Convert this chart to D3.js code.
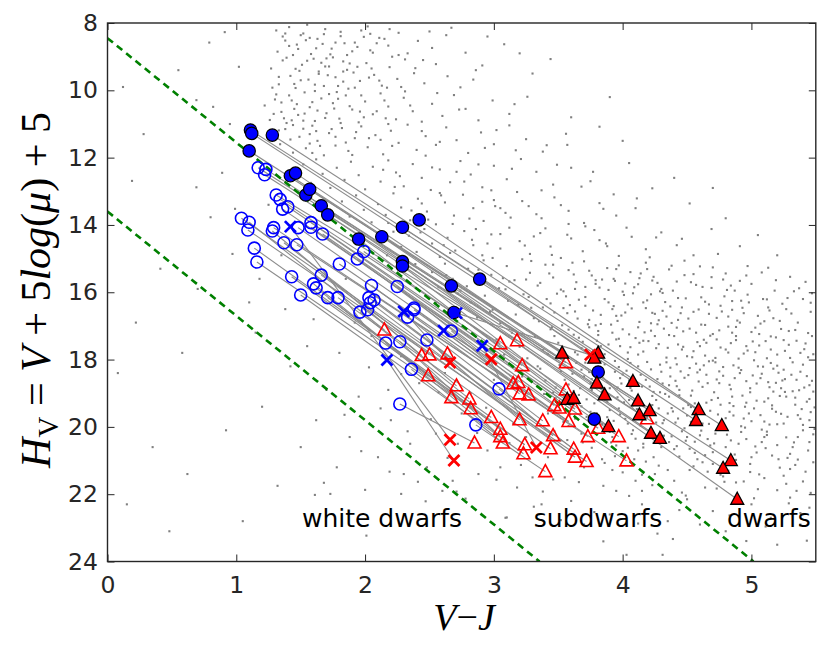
<!DOCTYPE html>
<html>
<head>
<meta charset="utf-8">
<script src="https://cdn.jsdelivr.net/npm/d3@7"></script>
<style>
  body { margin: 0; background: #fff; }
  svg { display: block; }
  .tick text { font-family: "DejaVu Sans", sans-serif; fill: #262626; }
</style>
</head>
<body>
<div id="chart"></div>
<script>
// ---- data ----
var xTicks = [0, 1, 2, 3, 4, 5];
var yTicks = [8, 10, 12, 14, 16, 18, 20, 22, 24];

// filled blue circles (left end of each pair)
var filledCircles = [
  [1.11, 11.18], [1.12, 11.28], [1.28, 11.33], [1.10, 11.80], [1.42, 12.54],
  [1.46, 12.46], [1.54, 13.11], [1.57, 12.94], [1.66, 13.43], [1.71, 13.70],
  [1.95, 14.42], [2.13, 14.35], [2.29, 14.07], [2.42, 13.85], [2.29, 15.09],
  [2.29, 15.22], [2.67, 15.81], [2.89, 15.61], [2.69, 16.60], [3.81, 18.37],
  [3.78, 19.77]
];
// filled red triangles
var filledTriangles = [
  [3.53, 17.81], [3.81, 17.81], [3.78, 17.96], [3.80, 18.70], [3.86, 19.05],
  [3.57, 19.18], [3.62, 19.15], [3.89, 19.99], [4.08, 18.65], [4.12, 19.23],
  [4.13, 19.64], [4.21, 19.52], [4.22, 20.19], [4.29, 20.34], [4.59, 19.49],
  [4.57, 19.81], [4.77, 19.96], [4.84, 21.00], [4.78, 21.23], [4.89, 22.15]
];
// [circle index, triangle index]
var filledLinks = [
  [0, 1], [1, 8], [2, 16], [3, 17], [4, 9], [5, 0], [6, 18], [7, 11], [8, 13],
  [9, 12], [10, 5], [11, 3], [12, 15], [13, 14], [14, 19], [15, 6], [16, 4],
  [17, 2], [18, 7], [19, 10], [20, 7]
];

// open blue circles
var openCircles = [
  [1.17, 12.30], [1.23, 12.35], [1.22, 12.51], [1.31, 13.11], [1.34, 13.24],
  [1.36, 13.53], [1.40, 13.46], [1.04, 13.80], [1.10, 13.92], [1.09, 14.15],
  [1.29, 14.08], [1.28, 14.18], [1.48, 14.08], [1.58, 13.93], [1.58, 14.07],
  [1.67, 14.27], [1.37, 14.53], [1.47, 14.59], [1.14, 14.69], [1.16, 15.10],
  [1.80, 15.16], [1.43, 15.54], [1.66, 15.49], [1.60, 15.75], [1.62, 15.87],
  [1.50, 16.08], [1.71, 16.16], [1.79, 16.16], [1.99, 14.79], [1.94, 15.01],
  [2.05, 15.80], [2.03, 16.16], [2.07, 16.23], [2.04, 16.31], [1.96, 16.59],
  [2.02, 16.52], [2.25, 15.83], [2.38, 16.47], [2.33, 16.74], [2.38, 16.52],
  [2.67, 17.15], [2.16, 17.51], [2.27, 17.47], [2.48, 17.42], [2.36, 18.29],
  [3.04, 18.87], [2.27, 19.32], [2.86, 19.94]
];
// open red triangles
var openTriangles = [
  [2.15, 17.12], [2.44, 17.88], [2.50, 17.86], [2.64, 17.83], [2.49, 18.48],
  [2.71, 18.78], [2.67, 19.13], [2.81, 19.17], [2.82, 19.46], [2.98, 19.72],
  [3.05, 20.07], [3.05, 20.29], [3.07, 20.48], [2.85, 20.48], [3.05, 17.53],
  [3.18, 17.44], [3.22, 18.18], [3.15, 18.72], [3.19, 18.68], [3.20, 19.02],
  [3.27, 19.05], [3.20, 19.79], [3.24, 20.53], [3.23, 20.80], [3.38, 19.82],
  [3.46, 20.26], [3.44, 20.65], [3.40, 21.33], [3.56, 18.90], [3.47, 19.37],
  [3.51, 19.44], [3.63, 19.47], [3.58, 19.84], [3.56, 18.09], [3.62, 20.66],
  [3.63, 20.90], [3.72, 21.03], [3.73, 20.29], [3.81, 20.04], [3.97, 20.29],
  [4.03, 21.01], [4.19, 19.76]
];
var openLinks = [
  [1, 33], [0, 33], [2, 41], [3, 15], [4, 14], [28, 28], [6, 16], [13, 39],
  [15, 31], [5, 31], [14, 38], [29, 30], [36, 18], [12, 29], [40, 17], [37, 20],
  [39, 32], [20, 32], [30, 19], [10, 37], [17, 40], [11, 1], [38, 24], [16, 2],
  [8, 0], [32, 34], [7, 25], [31, 34], [33, 35], [43, 21], [9, 36], [22, 35],
  [45, 25], [35, 5], [27, 26], [34, 7], [23, 4], [18, 9], [24, 8], [42, 11],
  [26, 10], [21, 22], [19, 22], [41, 11], [25, 23], [44, 12], [47, 27], [46, 13]
];

// crosses: blue i is linked with red i
var blueCrosses = [[1.42, 14.05], [2.30, 16.57], [2.71, 16.62], [2.61, 17.14], [2.91, 17.59], [2.17, 18.01]];
var redCrosses  = [[2.66, 20.38], [2.66, 18.09], [3.75, 17.86], [2.98, 17.99], [3.33, 20.61], [2.69, 21.00]];

// dashed separators: H = b + m (V-J)
var dividers = [{ b: 8.45, m: 3.10 }, { b: 13.6, m: 3.10 }];

var labelTexts = ["white dwarfs", "subdwarfs", "dwarfs"];
var labelX = [1.51, 3.31, 4.81];
var labelY = [22.98, 22.98, 22.98];

// background field stars "x y"
var fieldRaw = "1.32 8.85,1.41 8.12,1.47 8.64,1.52 8.31,1.58 8.92,1.63 8.47,1.69 8.18,1.74 8.76,1.81 8.39,1.86 8.95,1.92 8.58,1.97 8.22,2.04 8.81,2.11 8.44,2.18 8.67,2.26 8.29,2.33 8.90,2.41 8.53,2.52 8.74,2.63 8.36,2.78 8.88,1.38 8.52,1.55 8.05,1.77 8.58,2.02 8.10," +
  "1.27 9.35,1.33 9.82,1.36 9.11,1.42 9.57,1.46 9.93,1.51 9.24,1.56 9.68,1.6 9.06,1.64 9.44,1.68 9.87,1.72 9.29,1.77 9.61,1.83 9.14,1.87 9.95,1.91 9.47,1.96 9.72,2.01 9.19,2.07 9.54,2.13 9.86,2.19 9.31,2.25 9.66,2.31 9.08,2.38 9.49,2.46 9.79,2.55 9.22,2.64 9.58,2.74 9.91,2.86 9.4,1.49 9.42,1.7 9.05,1.94 9.3," +
  "1.22 10.45,1.26 10.88,1.31 10.12,1.35 10.64,1.39 10.97,1.43 10.3,1.48 10.73,1.53 10.06,1.57 10.5,1.61 10.91,1.66 10.24,1.7 10.68,1.75 10.38,1.8 10.84,1.85 10.15,1.9 10.57,1.95 10.95,2.0 10.33,2.06 10.71,2.12 10.09,2.18 10.48,2.24 10.86,2.3 10.22,2.37 10.62,2.44 10.93,2.52 10.4,2.6 10.76,2.69 10.14,2.78 10.55,2.88 10.89,2.99 10.3,3.12 10.7,1.45 10.55,1.63 10.6,1.78 10.05," +
  "1.34 11.6,1.38 11.15,1.44 11.85,1.49 11.38,1.54 11.72,1.59 11.05,1.63 11.5,1.68 11.93,1.72 11.27,1.77 11.64,1.82 11.12,1.87 11.8,1.92 11.42,1.97 11.07,2.02 11.69,2.08 11.33,2.14 11.9,2.2 11.2,2.26 11.56,2.33 11.02,2.4 11.77,2.47 11.36,2.55 11.62,2.63 11.1,2.71 11.48,2.8 11.86,2.9 11.25,3.0 11.6,3.12 11.04,3.25 11.45,3.38 11.82,1.57 11.3,1.85 11.55,2.18 11.0," +
  "1.52 12.2,1.58 12.75,1.62 12.05,1.67 12.48,1.73 12.9,1.78 12.3,1.84 12.66,1.89 12.12,1.95 12.52,2.0 12.94,2.06 12.27,2.12 12.71,2.18 12.08,2.24 12.44,2.3 12.85,2.37 12.19,2.44 12.6,2.51 12.96,2.58 12.35,2.66 12.73,2.74 12.1,2.82 12.5,2.91 12.88,3.0 12.24,3.1 12.64,3.21 12.04,3.33 12.42,3.46 12.8,3.6 12.3,3.75 12.7,2.27 12.55,2.88 12.2," +
  "1.82 13.3,1.88 13.75,1.93 13.12,1.99 13.55,2.05 13.92,2.1 13.38,2.16 13.7,2.22 13.06,2.28 13.48,2.35 13.86,2.41 13.22,2.48 13.6,2.55 13.98,2.62 13.33,2.69 13.72,2.76 13.1,2.84 13.5,2.92 13.88,3.0 13.26,3.09 13.64,3.18 13.02,3.27 13.44,3.37 13.8,3.47 13.18,3.58 13.58,3.7 13.94,3.82 13.35,3.95 13.72,4.1 13.5,2.58 13.05,3.05 13.5," +
  "2.12 14.5,2.17 14.9,2.22 14.2,2.28 14.65,2.34 14.32,2.4 14.8,2.46 14.12,2.52 14.55,2.58 14.95,2.64 14.38,2.7 14.76,2.77 14.18,2.84 14.6,2.91 14.9,2.98 14.28,3.05 14.7,3.12 14.08,3.2 14.48,3.28 14.86,3.36 14.24,3.44 14.64,3.52 14.98,3.6 14.4,3.69 14.78,3.78 14.15,3.87 14.55,3.97 14.92,4.07 14.35,4.18 14.72,4.3 14.22,4.42 14.6,4.55 14.9,2.95 14.55,3.4 14.1,3.82 14.45," +
  "2.52 15.4,2.57 15.85,2.62 15.15,2.68 15.6,2.74 15.95,2.8 15.3,2.86 15.72,2.92 15.05,2.98 15.48,3.04 15.88,3.1 15.22,3.16 15.64,3.22 15.02,3.28 15.42,3.34 15.8,3.4 15.18,3.46 15.56,3.52 15.92,3.58 15.34,3.64 15.7,3.7 15.08,3.76 15.5,3.82 15.86,3.88 15.28,3.94 15.66,4.0 15.98,4.06 15.4,4.12 15.76,4.18 15.12,4.24 15.54,4.3 15.9,4.36 15.32,4.42 15.68,4.48 15.06,4.55 15.46,4.62 15.84,4.7 15.26,4.78 15.62,4.87 15.95,4.96 15.5,3.25 15.62,3.61 15.12,3.97 15.2,4.27 15.72,3.07 15.58," +
  "2.82 16.3,2.87 16.75,2.93 16.1,2.99 16.52,3.05 16.92,3.11 16.25,3.17 16.66,3.23 16.06,3.29 16.46,3.35 16.86,3.41 16.2,3.47 16.6,3.53 16.98,3.59 16.38,3.65 16.78,3.71 16.14,3.77 16.54,3.83 16.94,3.89 16.3,3.95 16.7,4.01 16.08,4.07 16.48,4.13 16.88,4.19 16.24,4.25 16.64,4.31 16.02,4.37 16.42,4.43 16.82,4.49 16.18,4.55 16.58,4.61 16.96,4.67 16.36,4.73 16.76,4.79 16.12,4.85 16.52,4.91 16.9,4.98 16.3,5.05 16.7,5.13 16.45,5.22 16.85,3.38 16.45,3.74 16.82,4.04 16.36,4.34 16.72,4.64 16.28,4.94 16.62,3.56 16.12,4.22 16.92,4.82 16.72,3.92 16.5," +
  "3.02 17.4,3.08 17.85,3.14 17.2,3.2 17.62,3.26 17.96,3.32 17.32,3.38 17.72,3.44 17.1,3.5 17.5,3.56 17.9,3.62 17.26,3.68 17.66,3.74 17.04,3.8 17.44,3.86 17.84,3.92 17.2,3.98 17.6,4.04 17.98,4.1 17.36,4.16 17.76,4.22 17.14,4.28 17.54,4.34 17.94,4.4 17.3,4.46 17.7,4.52 17.08,4.58 17.48,4.64 17.88,4.7 17.24,4.76 17.64,4.82 17.02,4.88 17.42,4.94 17.82,5.0 17.18,5.06 17.58,5.12 17.96,5.19 17.34,5.26 17.74,5.34 17.12,5.42 17.52,3.47 17.3,3.83 17.6,4.13 17.5,4.43 17.55,4.73 17.4,5.03 17.78,3.65 17.85,4.25 17.3,4.55 17.75,4.85 17.2,5.15 17.7,3.95 17.4,5.3 17.95,4.0 17.1,4.6 17.6," +
  "3.22 18.5,3.28 18.9,3.34 18.2,3.4 18.62,3.46 18.98,3.52 18.34,3.58 18.74,3.64 18.1,3.7 18.5,3.76 18.9,3.82 18.26,3.88 18.66,3.94 18.04,4.0 18.44,4.06 18.84,4.12 18.2,4.18 18.6,4.24 18.96,4.3 18.36,4.36 18.76,4.42 18.14,4.48 18.54,4.54 18.92,4.6 18.3,4.66 18.7,4.72 18.08,4.78 18.48,4.84 18.88,4.9 18.24,4.96 18.64,5.02 18.02,5.08 18.42,5.14 18.82,5.2 18.18,5.26 18.58,5.32 18.94,5.38 18.36,5.45 18.76,3.55 18.6,3.85 18.4,4.15 18.8,4.45 18.35,4.75 18.7,5.05 18.2,5.35 18.6,3.67 18.85,3.97 18.22,4.27 18.58,4.57 18.12,4.87 18.55,5.17 18.95,4.05 18.62,4.65 18.45,5.25 18.3," +
  "3.42 19.6,3.48 19.15,3.54 19.85,3.6 19.4,3.66 19.05,3.72 19.7,3.78 19.3,3.84 19.92,3.9 19.5,3.96 19.12,4.02 19.76,4.08 19.36,4.14 19.96,4.2 19.58,4.26 19.2,4.32 19.8,4.38 19.44,4.44 19.06,4.5 19.66,4.56 19.3,4.62 19.9,4.68 19.52,4.74 19.14,4.8 19.74,4.86 19.38,4.92 19.98,4.98 19.6,5.04 19.22,5.1 19.84,5.16 19.46,5.22 19.08,5.28 19.7,5.34 19.34,5.4 19.94,5.46 19.56,3.75 19.55,4.05 19.2,4.35 19.6,4.65 19.28,4.95 19.4,5.25 19.9,3.63 19.75,3.93 19.82,4.23 19.35,4.53 19.85,4.83 19.55,5.13 19.15,5.43 19.25,4.47 19.45,5.07 19.65," +
  "3.52 20.4,3.6 20.85,3.68 20.2,3.76 20.62,3.84 20.96,3.92 20.3,4.0 20.72,4.08 20.1,4.16 20.5,4.24 20.9,4.32 20.26,4.4 20.66,4.48 20.04,4.56 20.44,4.64 20.84,4.72 20.2,4.8 20.6,4.88 20.98,4.96 20.36,5.04 20.76,5.12 20.14,5.2 20.54,5.28 20.92,5.36 20.3,5.44 20.7,4.12 20.7,4.36 20.45,4.6 20.25,4.84 20.4,5.08 20.45,5.32 20.6,4.2 20.25,4.68 20.55,5.16 20.85,3.95 20.55,4.44 20.88,4.92 20.15,5.4 20.1,4.52 20.65,5.0 20.9," +
  "3.55 21.5,3.7 21.2,3.85 21.75,4.0 21.35,4.15 21.9,4.28 21.15,4.4 21.6,4.52 21.28,4.64 21.8,4.76 21.42,4.88 21.65,4.99 21.1,5.1 21.52,5.2 21.88,5.3 21.25,5.4 21.62,5.48 21.05,4.1 21.6,4.46 21.95,4.7 21.1,5.05 21.85,5.25 21.45,4.25 21.4,4.82 21.3,5.35 21.9,3.95 21.9," +
  "3.6 22.2,3.9 22.6,4.15 22.3,4.35 22.8,4.5 22.15,4.7 22.5,5.0 22.3,5.15 22.7,5.3 22.1,4.05 22.05,4.6 22.9,5.45 22.4," +
  "0.19 12.69,0.69 12.88,0.8 13.77,0.89 12.45,0.97 14.86,0.99 13.52,0.79 8.58,0.82 10.49,0.69 10.29,0.91 8.27,1.32 21.75,1.61 22.02,1.73 21.99,2.0 21.87,2.28 21.99,2.01 23.23,1.68 21.66,3.1 22.69,4.39 23.33,4.31 23.8,4.03 23.8,5.43 23.38,3.37 22.3,3.09 22.7," +
  "0.08 18.4,0.35 20.6,0.22 16.9,0.58 17.8,0.15 22.3,0.48 23.1,0.92 20.1,1.05 22.8,0.62 21.4,1.2 19.4,0.41 15.3,1.15 17.2,0.7 15.9,0.28 11.3,0.55 9.4,0.12 9.9,1.02 9.3,0.95 11.0," +
  "1.25 13.4,1.18 15.6,1.38 16.5,1.55 17.6,1.42 18.2,1.7 18.9,1.62 19.8,1.88 20.3,1.95 19.1,2.1 20.9,2.2 19.8,2.35 20.5,2.48 21.2,2.55 20.2,2.68 21.6,2.75 19.6,2.42 18.7,2.18 18.9,2.05 17.3,1.8 17.8,1.92 16.9,2.6 21.9,2.88 21.4,2.95 20.7,3.05 21.2,3.18 21.8,3.3 21.5,3.42 20.9,2.3 21.4,1.5 20.6,1.78 21.2,2.62 18.4,2.82 19.0,3.15 19.9,3.0 18.6,1.35 14.9,1.6 16.8,2.28 17.9,3.25 20.3,2.72 20.5,1.1 16.3,1.85 15.6," +
  "3.7 22.9,3.85 23.4,4.8 23.1,5.2 23.5,5.38 22.9,3.3 9.5,3.6 10.8,4.0 11.5,4.4 12.6,4.8 13.8,5.2 14.9,5.4 16.2,3.9 10.2,2.95 8.4,3.2 8.9,4.7 12.9,5.05 14.3," +
  "3.63 15.9,3.71 16.4,3.79 15.75,3.86 16.2,3.93 15.6,4.02 16.6,4.09 15.85,4.16 16.3,4.23 15.65,4.31 16.55,4.39 15.95,4.46 16.45,4.53 15.7,4.61 16.15,4.69 15.55,4.76 16.4,4.84 15.8,4.92 16.25,5.0 15.75,5.09 16.2,5.18 15.95,5.27 16.5,5.36 16.9," +
  "3.66 17.35,3.73 16.95,3.81 17.15,3.89 17.55,3.96 16.85,4.05 17.25,4.12 17.85,4.2 17.45,4.27 16.95,4.35 17.65,4.42 17.05,4.5 17.9,4.57 17.2,4.65 17.5,4.72 17.95,4.8 17.7,4.88 17.3,4.96 17.6,5.03 17.05,5.11 17.45,5.2 17.85,5.29 17.15,5.38 17.8,5.47 17.3," +
  "3.68 18.3,3.75 18.7,3.83 18.05,3.9 18.85,3.98 18.55,4.06 18.1,4.14 18.45,4.21 18.8,4.29 18.15,4.37 18.5,4.44 18.9,4.52 18.25,4.59 18.65,4.67 18.05,4.75 18.35,4.83 18.75,4.91 18.4,4.99 18.85,5.07 18.55,5.15 18.1,5.23 18.85,5.31 18.45,5.4 18.15,5.48 18.95," +
  "3.8 19.6,3.88 19.25,3.97 19.45,4.04 19.9,4.11 19.15,4.19 19.7,4.28 19.45,4.36 19.1,4.43 19.75,4.51 19.35,4.6 19.55,4.69 19.2,4.77 19.85,4.85 19.1,4.94 19.75,5.02 19.45,5.1 19.25,5.19 19.55,5.27 19.1,5.36 19.65,5.45 19.8," +
  "4.1 20.35,4.3 20.6,4.5 20.3,4.7 20.75,4.9 20.5,5.1 20.3,5.3 20.8,5.45 20.45,3.9 20.15,4.62 21.05," +
  "1.36 8.4,1.44 8.95,1.5 9.7,1.59 10.35,1.62 8.75,1.71 9.55,1.79 10.25,1.84 8.6,1.88 9.2,1.99 10.8,2.05 9.35,2.09 8.6,2.15 10.3,2.21 9.0,2.28 9.9,2.35 10.45,1.41 10.15,1.52 10.9,1.65 11.65,1.74 11.15,1.33 9.6,1.29 10.7,2.45 9.1,2.5 8.25," +
  "1.31 8.22,1.48 8.77,1.39 9.03,1.57 8.44,1.66 9.18,1.45 9.81,1.73 8.93,1.35 10.36,1.61 10.02,1.52 11.14,1.83 9.74,1.42 11.46,1.69 10.82,1.94 8.71,1.77 11.38,1.28 9.92,1.88 10.47,1.59 11.86,2.03 9.62,1.37 10.83,1.81 8.26,2.17 9.92,1.64 9.51,1.47 10.41,2.09 10.62,1.93 11.24,1.72 10.11,1.55 9.12,2.26 8.95,1.99 8.41,1.41 8.68,1.86 9.39,2.12 11.47,1.68 8.33,1.53 10.69,1.79 9.87,2.31 10.03,1.44 11.03,1.97 10.15,2.21 11.65,1.62 11.21,1.33 11.19,2.39 9.34,1.75 9.02,2.06 8.88,1.5 8.36,2.15 8.47,1.9 11.92,2.44 11.21,2.56 10.08," +
  "2.23 12.87,2.47 11.94,2.71 12.42,2.36 13.57,2.93 11.71,2.59 13.12,3.14 12.33,2.81 13.81,3.37 12.97,2.18 13.94,3.05 14.27,2.66 14.83,3.52 13.41,3.24 14.61,2.88 15.33,3.71 14.04,3.46 15.18,3.09 15.91,3.88 14.63,2.43 14.22,3.62 15.47,2.77 12.71,3.33 13.68,3.95 15.31,2.52 12.29,3.17 11.78,2.98 12.97,3.41 11.63,3.68 12.86,3.85 13.52,4.03 14.08,4.21 14.96,3.79 15.64,2.63 15.49,2.31 14.07,3.57 14.29,4.14 15.44,2.86 14.12,3.29 15.07,3.01 13.44,2.44 13.36,3.49 12.21,3.93 13.09,4.26 14.37,4.38 15.21,2.72 16.04,3.19 16.37,3.66 16.22,2.97 16.58,3.36 15.72,2.14 12.36,2.58 11.53,3.02 11.18,3.56 11.29,3.77 12.42,4.11 13.21,4.46 14.41,4.6 15.23,2.39 15.16,2.55 16.31," +
  "3.44 16.33,3.58 17.11,3.71 15.84,3.83 16.67,3.97 17.38,4.08 16.03,4.17 17.19,4.29 15.97,4.38 16.91,4.47 17.62,4.59 16.51,4.68 17.29,4.81 15.93,4.89 16.84,5.01 17.46,5.12 16.21,5.23 17.09,5.31 16.63,5.44 17.21,5.37 15.88,5.19 15.64,4.97 15.22,4.74 14.86,5.08 15.41,5.28 16.17,5.46 16.58," +
  "3.51 18.16,3.62 18.93,3.74 18.37,3.87 19.18,3.99 18.71,4.11 19.47,4.22 18.29,4.33 19.02,4.41 18.63,4.53 19.41,4.62 18.81,4.74 19.63,4.86 18.17,4.93 19.07,5.04 18.71,5.16 19.36,5.24 18.62,5.34 19.13,5.43 18.49,5.49 19.42,3.46 19.31,3.58 19.97,3.69 20.46,3.81 19.82,3.94 20.87,4.07 20.21,4.18 21.03,4.31 19.89,4.42 20.57,4.55 21.17,4.66 20.36,4.78 21.47,4.87 20.82,4.99 21.34,5.11 20.63,5.22 21.21,5.33 20.46,5.42 21.33,5.48 20.22,3.66 21.64,3.92 21.28,4.23 21.73,4.49 22.04,4.73 21.83,5.02 22.12,5.27 21.69,5.46 21.96," +
  "3.53 17.67,3.77 17.73,3.91 16.96,4.03 18.33,4.26 17.66,4.51 16.78,4.63 18.17,4.84 17.51,5.07 16.93,5.17 18.27,5.41 17.69,3.84 18.96,4.14 19.73,4.37 18.24,4.71 18.97,4.96 19.28,5.21 18.39,5.38 19.76,3.98 19.63,4.46 20.13,4.81 20.23,5.14 19.93,5.36 20.97,4.04 17.79,4.33 16.29,4.77 16.57,5.24 16.34,4.57 15.78,4.19 15.31,3.89 15.93,4.92 18.31,4.41 17.96,3.72 19.18,4.29 18.97,4.67 19.91,5.08 20.08,3.57 20.39,3.86 21.07,4.16 20.61,4.58 20.96,4.94 21.62,5.29 22.27,3.48 18.83,4.88 17.03,5.32 18.08,5.47 18.63,5.15 17.31,4.36 17.27,3.63 16.57,4.23 16.61,4.97 16.07,5.42 15.69," +
  "3.78 22.53,4.12 22.87,4.44 22.47,4.83 22.63,5.11 22.96,5.38 22.56,3.52 22.77,4.27 23.17,4.96 23.39," +
  "2.12 19.45,2.33 20.13,2.51 19.77,2.64 20.92,2.87 20.18,3.02 21.57,3.21 21.13,3.38 21.92,2.41 21.63,2.78 22.13,2.57 18.97,2.28 18.43,1.97 20.72,2.19 21.33,2.94 19.43,3.12 20.48,3.31 22.37,2.47 22.21,2.03 18.23,1.84 19.64,3.46 21.56,2.71 21.92," +
  "2.67 8.14,2.91 9.26,3.08 8.63,3.26 10.19,3.44 9.07,3.57 11.62,3.82 11.08,4.05 12.16,4.23 12.91,4.52 13.36,4.69 14.12,4.91 14.63,5.13 15.27,5.3 15.54,5.47 16.03,2.73 10.57,3.16 10.41,2.84 9.68," +
  "3.31 16.77,3.42 17.83,3.49 16.04,3.61 18.42,3.69 17.47,3.74 15.36,3.86 18.14,3.93 16.41,4.01 19.27,4.06 17.63,4.13 15.58,4.19 18.07,4.24 20.47,4.32 17.08,4.39 19.54,4.43 16.17,4.51 18.46,4.56 20.77,4.63 17.41,4.69 15.87,4.76 19.34,4.82 17.79,4.87 21.09,4.93 16.46,4.99 18.97,5.06 17.24,5.12 20.24,5.17 16.77,5.23 19.61,5.29 17.56,5.34 21.13,5.41 18.83,5.46 16.31,5.49 20.06," +
  "3.36 18.27,3.47 20.13,3.54 15.97,3.63 17.78,3.72 20.83,3.79 16.98,3.88 19.71,3.94 18.36,4.02 15.74,4.09 20.96,4.16 17.44,4.23 19.08,4.28 16.83,4.35 21.28,4.42 18.79,4.48 15.49,4.54 17.93,4.61 20.11,4.67 16.64,4.73 18.59,4.79 21.63,4.86 19.66,4.91 15.66,4.97 17.73,5.03 20.58,5.09 18.21,5.14 16.54,5.21 20.96,5.26 18.96,5.33 15.97,5.39 19.47,5.44 17.93," +
  "3.39 19.02,3.57 16.62,3.68 19.39,3.81 17.27,3.91 20.46,3.99 16.69,4.07 18.92,4.15 21.42,4.22 16.06,4.31 18.71,4.38 20.28,4.47 17.16,4.53 19.07,4.64 16.97,4.71 20.49,4.78 18.22,4.85 16.26,4.95 20.02,5.01 18.47,5.1 16.86,5.19 18.69,5.27 20.31,5.35 17.44,5.45 19.17," +
  "3.45 17.04,3.59 19.63,3.76 18.58,3.84 15.62,3.96 18.83,4.04 20.62,4.12 17.04,4.26 19.87,4.34 18.08,4.45 16.62,4.58 18.38,4.66 21.33,4.75 17.13,4.83 19.29,4.9 17.97,5.0 19.83,5.13 18.67,5.25 17.42,5.37 18.91,5.48 17.84,4.18 16.47,4.49 20.41,4.8 15.44,5.06 21.41,3.71 18.09,4.41 19.87,4.7 18.03,5.2 19.92," +
  "2.49 13.84,2.68 13.97,2.83 14.44,2.99 14.98,3.13 13.78,3.31 14.34,3.45 14.89,3.58 13.97,2.61 14.6,2.91 13.31,3.22 13.29,3.43 15.44,3.12 15.68,2.79 15.82,3.54 16.47,3.27 16.14," +
  "1.38 8.31,1.46 9.36,1.54 8.51,1.61 9.83,1.67 8.62,1.76 10.54,1.83 9.44,1.9 8.84,1.96 10.63,2.04 8.32,2.11 9.71,2.19 8.18,1.43 10.89,1.57 11.58,1.69 9.29,1.81 10.97,1.92 9.92,2.03 11.42,2.16 10.83,1.3 10.27";

var fieldStars = fieldRaw.split(",").map(function(s) {
  var p = s.trim().split(/\s+/);
  return [+p[0], +p[1]];
});

// ---- layout ----
var width = 830;
var height = 646;
var plotLeft = 107.5, plotRight = 815.8, plotTop = 23, plotBottom = 561.5;
var axisColor = "#262626";

var x = d3.scaleLinear().domain([0, 5.5]).range([plotLeft, plotRight]);
var y = d3.scaleLinear().domain([8, 24]).range([plotTop, plotBottom]);

var svg = d3.select("#chart").append("svg")
  .attr("width", width)
  .attr("height", height);

svg.append("defs").append("clipPath")
  .attr("id", "plotclip")
  .append("rect")
  .attr("x", plotLeft).attr("y", plotTop)
  .attr("width", plotRight - plotLeft)
  .attr("height", plotBottom - plotTop);

var plot = svg.append("g").attr("clip-path", "url(#plotclip)");

/* field stars */
plot.append("g")
  .selectAll("rect")
  .data(fieldStars).enter()
  .append("rect")
  .attr("x", d => x(d[0]) - 1)
  .attr("y", d => y(d[1]) - 1)
  .attr("width", 2.1)
  .attr("height", 2.1)
  .attr("fill", "#808080");

/* connecting lines */
var segs = [];
filledLinks.forEach(l => segs.push([filledCircles[l[0]], filledTriangles[l[1]]]));
openLinks.forEach(l => segs.push([openCircles[l[0]], openTriangles[l[1]]]));
blueCrosses.forEach((b, i) => segs.push([b, redCrosses[i]]));

plot.append("g")
  .selectAll("line")
  .data(segs).enter()
  .append("line")
  .attr("x1", d => x(d[0][0]))
  .attr("y1", d => y(d[0][1]))
  .attr("x2", d => x(d[1][0]))
  .attr("y2", d => y(d[1][1]))
  .attr("stroke", "#8c8c8c")
  .attr("stroke-width", 1.1);

/* dashed dividers */
plot.append("g")
  .selectAll("line")
  .data(dividers).enter()
  .append("line")
  .attr("x1", x(0))
  .attr("y1", d => y(d.b))
  .attr("x2", d => x((24 - d.b) / d.m))
  .attr("y2", y(24))
  .attr("stroke", "#008000")
  .attr("stroke-width", 2.6)
  .attr("stroke-dasharray", "7,5");

/* markers */
var triPath = "M0,-7L6.5,5L-6.5,5Z";
var crossPath = "M-5.5,-5.5L5.5,5.5M-5.5,5.5L5.5,-5.5";

plot.append("g")
  .selectAll("circle")
  .data(openCircles).enter()
  .append("circle")
  .attr("cx", d => x(d[0]))
  .attr("cy", d => y(d[1]))
  .attr("r", 6)
  .attr("fill", "none")
  .attr("stroke", "#0000ff")
  .attr("stroke-width", 1.6);

plot.append("g")
  .selectAll("path")
  .data(openTriangles).enter()
  .append("path")
  .attr("d", triPath)
  .attr("transform", d => `translate(${x(d[0])},${y(d[1])})`)
  .attr("fill", "none")
  .attr("stroke", "#ff0000")
  .attr("stroke-width", 1.6);

plot.append("g")
  .selectAll("circle")
  .data(filledCircles).enter()
  .append("circle")
  .attr("cx", d => x(d[0]))
  .attr("cy", d => y(d[1]))
  .attr("r", 6.2)
  .attr("fill", "#0000ff")
  .attr("stroke", "#000")
  .attr("stroke-width", 1.2);

plot.append("g")
  .selectAll("path")
  .data(filledTriangles).enter()
  .append("path")
  .attr("d", triPath)
  .attr("transform", d => `translate(${x(d[0])},${y(d[1])})`)
  .attr("fill", "#ff0000")
  .attr("stroke", "#000")
  .attr("stroke-width", 1.3);

[[blueCrosses, "#0000ff"], [redCrosses, "#ff0000"]].forEach(function(c) {
  plot.append("g")
    .selectAll("path")
    .data(c[0]).enter()
    .append("path")
    .attr("d", crossPath)
    .attr("transform", d => `translate(${x(d[0])},${y(d[1])})`)
    .attr("fill", "none")
    .attr("stroke", c[1])
    .attr("stroke-width", 2.8);
});

/* region labels */
svg.append("g")
  .selectAll("text")
  .data(labelTexts).enter()
  .append("text")
  .attr("x", (d, i) => x(labelX[i]))
  .attr("y", (d, i) => y(labelY[i]))
  .attr("font-family", "DejaVu Sans, sans-serif")
  .attr("font-size", 25)
  .attr("fill", "#000")
  .text(d => d);

/* axes: ticks pointing inward on all four sides */
function styleAxis(g) {
  g.select(".domain").remove();
  g.selectAll(".tick line").attr("stroke", axisColor).attr("stroke-width", 1);
  g.selectAll(".tick text").attr("font-size", 23.5).attr("fill", axisColor);
}

svg.append("g")
  .attr("transform", `translate(0,${plotBottom})`)
  .call(d3.axisBottom(x).tickValues(xTicks).tickSize(-7).tickPadding(15).tickFormat(d3.format("d")))
  .call(styleAxis);

svg.append("g")
  .attr("transform", `translate(0,${plotTop})`)
  .call(d3.axisTop(x).tickValues(xTicks).tickSize(-7).tickFormat(""))
  .call(styleAxis);

svg.append("g")
  .attr("transform", `translate(${plotLeft},0)`)
  .call(d3.axisLeft(y).tickValues(yTicks).tickSize(-7).tickPadding(9.5).tickFormat(d3.format("d")))
  .call(styleAxis);

svg.append("g")
  .attr("transform", `translate(${plotRight},0)`)
  .call(d3.axisRight(y).tickValues(yTicks).tickSize(-7).tickFormat(""))
  .call(styleAxis);

svg.append("rect")
  .attr("x", plotLeft).attr("y", plotTop)
  .attr("width", plotRight - plotLeft)
  .attr("height", plotBottom - plotTop)
  .attr("fill", "none")
  .attr("stroke", axisColor)
  .attr("stroke-width", 1.4);

/* axis titles */
var serif = "'Liberation Serif', 'DejaVu Serif', serif";

var xt = svg.append("text")
  .attr("x", 464)
  .attr("y", 630)
  .attr("text-anchor", "middle")
  .attr("font-family", serif)
  .attr("font-size", 38)
  .attr("fill", "#000");
xt.append("tspan").attr("font-style", "italic").text("V");
xt.append("tspan").text("\u2212");
xt.append("tspan").attr("font-style", "italic").text("J");

var yt = svg.append("text")
  .attr("transform", "translate(50,290) rotate(-90)")
  .attr("text-anchor", "middle")
  .attr("font-family", serif)
  .attr("font-size", 42)
  .attr("fill", "#000");
yt.append("tspan").attr("font-style", "italic").text("H");
yt.append("tspan").attr("font-size", 29).attr("dy", 8).text("V");
yt.append("tspan").attr("dy", -8).text(" = ");
yt.append("tspan").attr("font-style", "italic").text("V");
yt.append("tspan").text(" + 5");
yt.append("tspan").attr("font-style", "italic").text("log");
yt.append("tspan").text("(");
yt.append("tspan").attr("font-style", "italic").text("\u03bc");
yt.append("tspan").text(") + 5");
</script>
</body>
</html>
